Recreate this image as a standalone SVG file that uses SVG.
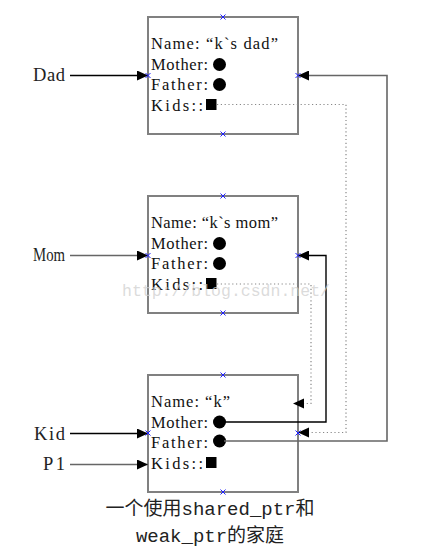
<svg xmlns="http://www.w3.org/2000/svg" width="439" height="559" viewBox="0 0 439 559">
<style>
.box{fill:#fff;stroke:#808080;stroke-width:2}
.t{font-family:"Liberation Serif","Times New Roman",serif;font-size:16.5px;fill:#111}
.lbl{font-family:"Liberation Serif","Times New Roman",serif;font-size:18.5px;fill:#222}
.cap{font-family:"Liberation Mono","Noto Sans CJK SC",monospace;font-size:19px;fill:#222}
.wm{font-family:"Liberation Mono",monospace;font-size:16.5px;fill:#cfcfcf;fill-opacity:0.75}
.ln{fill:none;stroke:#000;stroke-width:1.4}
.lg{fill:none;stroke:#666;stroke-width:1.6}
.dt{fill:none;stroke:#888;stroke-width:1.2;stroke-dasharray:1.2 2.6}
.x{stroke:#2020ff;stroke-width:1}
.dot{fill:#000}
</style>
<defs>
<marker id="ah" viewBox="0 0 11 10" refX="11" refY="5" markerWidth="11" markerHeight="10" markerUnits="userSpaceOnUse" orient="auto">
<path d="M0,0 L11,5 L0,10 Z" fill="#000"/>
</marker>
<g id="xm"><path class="x" d="M-2.5,-2.5 L2.5,2.5 M-2.5,2.5 L2.5,-2.5"/></g>
</defs>

<g id="dad-node">
<rect class="box" x="148" y="17" width="150" height="117"/>
<text class="t" x="151" y="49" textLength="127">Name: “k`s dad”</text>
<text class="t" x="151" y="70" textLength="57">Mother:</text>
<circle class="dot" cx="219.5" cy="64.5" r="6.5"/>
<text class="t" x="151" y="90" textLength="57">Father:</text>
<circle class="dot" cx="219.5" cy="84.5" r="6.5"/>
<text class="t" x="151" y="111" textLength="52">Kids::</text>
<rect class="dot" x="206" y="99" width="10.5" height="11"/>
</g>

<g id="mom-node">
<rect class="box" x="148" y="196" width="150" height="117"/>
<text class="t" x="151" y="228" textLength="127">Name: “k`s mom”</text>
<text class="t" x="151" y="249" textLength="57">Mother:</text>
<circle class="dot" cx="219.5" cy="243.5" r="6.5"/>
<text class="t" x="151" y="269" textLength="57">Father:</text>
<circle class="dot" cx="219.5" cy="263.5" r="6.5"/>
<text class="t" x="151" y="290" textLength="52">Kids::</text>
<rect class="dot" x="206" y="278" width="10.5" height="11"/>
</g>

<g id="kid-node">
<rect class="box" x="148" y="375" width="150" height="117"/>
<text class="t" x="151" y="407" textLength="79">Name: “k”</text>
<text class="t" x="151" y="428" textLength="57">Mother:</text>
<circle class="dot" cx="219.5" cy="422" r="6.5"/>
<text class="t" x="151" y="448" textLength="57">Father:</text>
<circle class="dot" cx="219.5" cy="441" r="6.5"/>
<text class="t" x="151" y="469" textLength="52">Kids::</text>
<rect class="dot" x="206" y="457" width="10.5" height="11"/>
</g>

<g id="label-dad"><text class="lbl" x="33" y="81" textLength="32">Dad</text></g>
<g id="label-mom"><text class="lbl" x="33" y="261" textLength="32" lengthAdjust="spacingAndGlyphs">Mom</text></g>
<g id="label-kid"><text class="lbl" x="34" y="440" textLength="31">Kid</text></g>
<g id="label-p1"><text class="lbl" x="43" y="470" textLength="22">P1</text></g>

<g id="connectors">
<path class="ln" d="M70,75.5 H148" marker-end="url(#ah)"/>
<path class="lg" d="M70,255.5 H148" marker-end="url(#ah)"/>
<path class="ln" d="M70,433.5 H148" marker-end="url(#ah)"/>
<path class="lg" d="M70,464.5 H148" marker-end="url(#ah)"/>
<path class="lg" d="M224,441 H387 V75.5 H298" marker-end="url(#ah)"/>
<path class="ln" d="M224,422 H326 V255.5 H298" marker-end="url(#ah)"/>
<path class="dt" d="M217,104.5 H346 V432.5 H309"/>
<path d="M309,427.5 L298,432.5 L309,437.5 Z" fill="#000"/>
<path class="dt" d="M217,284 H311 V403.5 H304"/>
<path d="M304,398.5 L293,403.5 L304,408.5 Z" fill="#000"/>
</g>

<g id="markers">
<use href="#xm" x="223" y="17"/><use href="#xm" x="223" y="134"/>
<use href="#xm" x="148" y="75.5"/><use href="#xm" x="298" y="75.5"/>
<use href="#xm" x="223" y="196"/><use href="#xm" x="223" y="313"/>
<use href="#xm" x="148" y="255.5"/><use href="#xm" x="298" y="255.5"/>
<use href="#xm" x="223" y="375"/><use href="#xm" x="223" y="492"/>
<use href="#xm" x="148" y="433"/><use href="#xm" x="298" y="433"/>
</g>

<text class="wm" x="122" y="296">http://blog.csdn.net/</text>

<g id="caption">
<text class="cap" x="210" y="515" text-anchor="middle">一个使用shared_ptr和</text>
<text class="cap" x="210" y="542" text-anchor="middle">weak_ptr的家庭</text>
</g>
</svg>
